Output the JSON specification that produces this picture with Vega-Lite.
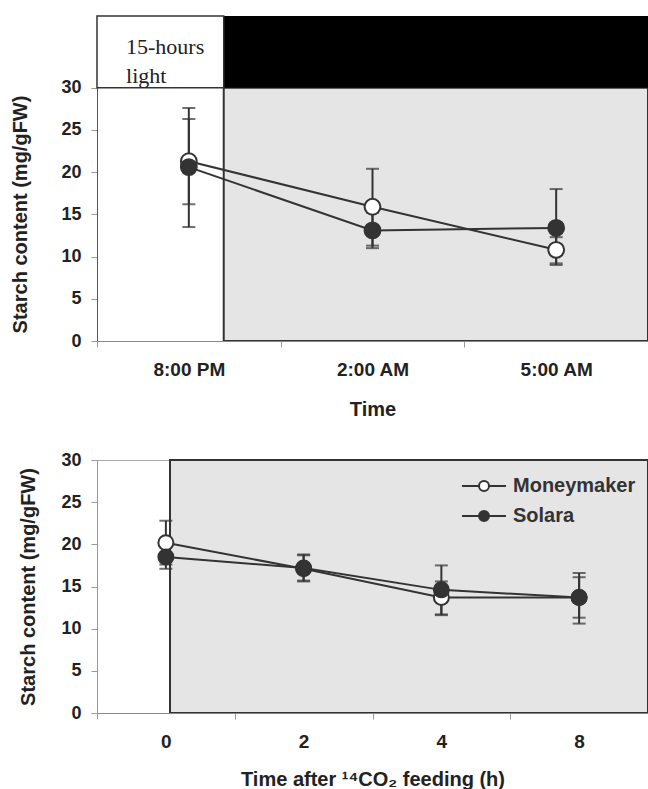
{
  "$schema": "https://vega.github.io/schema/vega-lite/v6.json",
  "padding": {"left": 10, "top": 15, "right": 0, "bottom": 0},
  "background": "white",
  "spacing": 31,
  "resolve": {"scale": {"fill": "independent", "x": "independent", "y": "independent"}, "legend": {"fill": "independent"}},
  "config": {
    "font": "Liberation Sans",
    "view": {"stroke": null},
    "axis": {
      "labelFont": "Liberation Sans", "labelFontWeight": "bold", "labelFontSize": 18, "labelColor": "#222",
      "titleFont": "Liberation Sans", "titleFontWeight": "bold", "titleFontSize": 20, "titleColor": "#222",
      "tickColor": "#999", "tickSize": 6, "domainColor": "#777", "grid": false
    }
  },
  "datasets": {
    "night": [
      {"period": "15-hours light", "start": "8:00 PM", "end": "5:00 AM"}
    ],
    "diurnal": [
      {"time": "8:00 PM", "series": "Moneymaker", "starch": 21.3, "lo": 16.2, "hi": 26.3},
      {"time": "2:00 AM", "series": "Moneymaker", "starch": 15.9, "lo": 11.3, "hi": 20.4},
      {"time": "5:00 AM", "series": "Moneymaker", "starch": 10.8, "lo": 9.2, "hi": 12.3},
      {"time": "8:00 PM", "series": "Solara", "starch": 20.6, "lo": 13.5, "hi": 27.6},
      {"time": "2:00 AM", "series": "Solara", "starch": 13.1, "lo": 11.0, "hi": 15.2},
      {"time": "5:00 AM", "series": "Solara", "starch": 13.4, "lo": 9.0, "hi": 18.0}
    ],
    "chase": [
      {"hours": "0", "series": "Moneymaker", "starch": 20.2, "lo": 17.6, "hi": 22.8},
      {"hours": "2", "series": "Moneymaker", "starch": 17.1, "lo": 15.7, "hi": 18.7},
      {"hours": "4", "series": "Moneymaker", "starch": 13.7, "lo": 11.6, "hi": 15.6},
      {"hours": "8", "series": "Moneymaker", "starch": 13.7, "lo": 11.3, "hi": 16.1},
      {"hours": "0", "series": "Solara", "starch": 18.5, "lo": 17.1, "hi": 19.9},
      {"hours": "2", "series": "Solara", "starch": 17.2, "lo": 15.6, "hi": 18.8},
      {"hours": "4", "series": "Solara", "starch": 14.6, "lo": 11.7, "hi": 17.5},
      {"hours": "8", "series": "Solara", "starch": 13.7, "lo": 10.6, "hi": 16.6}
    ]
  },
  "vconcat": [
    {
      "width": 551,
      "height": 325,
      "encoding": {
        "x": {
          "field": "time", "type": "ordinal", "title": "Time",
          "scale": {"type": "band", "domain": ["8:00 PM", "2:00 AM", "5:00 AM"], "paddingInner": 0, "paddingOuter": 0},
          "axis": {"labelAngle": 0, "labelFontSize": 19, "tickBand": "extent", "labelPadding": 13, "titlePadding": 20, "domainColor": "#888"}
        }
      },
      "layer": [
        {
          "data": {"name": "night"},
          "mark": {"type": "rect", "fill": "#e5e5e5", "stroke": "#333", "strokeWidth": 2},
          "encoding": {
            "x": {"field": "start", "type": "ordinal", "bandPosition": 0.69},
            "x2": {"field": "end", "bandPosition": 1},
            "y": {"datum": 0, "type": "quantitative",
              "scale": {"domain": [0, 38.5], "nice": false, "zero": true},
              "axis": {"values": [0, 5, 10, 15, 20, 25, 30], "title": "Starch content (mg/gFW)", "titleY": 198, "labelPadding": 10, "titlePadding": 30, "domainColor": "#555"}},
            "y2": {"datum": 30}
          }
        },
        {
          "data": {"name": "night"},
          "mark": {"type": "rect", "fill": "#000"},
          "encoding": {
            "x": {"field": "start", "type": "ordinal", "bandPosition": 0.69},
            "x2": {"field": "end", "bandPosition": 1},
            "y": {"datum": 30, "type": "quantitative"},
            "y2": {"datum": 38.5}
          }
        },
        {
          "data": {"name": "night"},
          "mark": {"type": "rect", "fill": "white", "stroke": "#333", "strokeWidth": 1.5},
          "encoding": {
            "x": {"field": "start", "type": "ordinal", "bandPosition": 0},
            "x2": {"field": "start", "bandPosition": 0.69},
            "y": {"datum": 30, "type": "quantitative"},
            "y2": {"datum": 38.5}
          }
        },
        {
          "data": {"name": "night"},
          "mark": {"type": "text", "font": "Liberation Serif", "fontSize": 22, "align": "left", "baseline": "alphabetic", "color": "#222", "lineHeight": 29},
          "encoding": {
            "x": {"field": "start", "type": "ordinal", "bandPosition": 0.158},
            "y": {"datum": 34.0, "type": "quantitative"},
            "text": {"value": ["15-hours", "light"]}
          }
        },
        {
          "data": {"name": "diurnal"},
          "mark": {"type": "line", "stroke": "#333", "strokeWidth": 2},
          "encoding": {
            "y": {"field": "starch", "type": "quantitative"},
            "detail": {"field": "series"}
          }
        },
        {
          "data": {"name": "diurnal"},
          "mark": {"type": "rule", "stroke": "#333", "strokeWidth": 2},
          "encoding": {
            "y": {"field": "lo", "type": "quantitative"},
            "y2": {"field": "hi"}
          }
        },
        {
          "data": {"name": "diurnal"},
          "mark": {"type": "tick", "orient": "horizontal", "size": 13, "thickness": 2, "color": "#333"},
          "encoding": {"y": {"field": "lo", "type": "quantitative"}}
        },
        {
          "data": {"name": "diurnal"},
          "mark": {"type": "tick", "orient": "horizontal", "size": 13, "thickness": 2, "color": "#333"},
          "encoding": {"y": {"field": "hi", "type": "quantitative"}}
        },
        {
          "data": {"name": "diurnal"},
          "mark": {"type": "point", "shape": "circle", "filled": true, "size": 250, "stroke": "#333", "strokeWidth": 2, "opacity": 1},
          "encoding": {
            "y": {"field": "starch", "type": "quantitative"},
            "fill": {"field": "series", "type": "nominal", "scale": {"domain": ["Moneymaker", "Solara"], "range": ["white", "#333"]}, "legend": null}
          }
        }
      ]
    },
    {
      "width": 551,
      "height": 253,
      "view": {"stroke": "#aaa"},
      "encoding": {
        "x": {
          "field": "hours", "type": "ordinal", "title": "Time after ¹⁴CO₂ feeding (h)",
          "scale": {"type": "band", "domain": ["0", "2", "4", "8"], "paddingInner": 0, "paddingOuter": 0},
          "axis": {"labelAngle": 0, "labelFontSize": 19, "tickBand": "extent", "labelPadding": 13, "titlePadding": 18, "domainColor": "#888"}
        }
      },
      "layer": [
        {
          "data": {"values": [{"start": "0", "end": "8"}]},
          "mark": {"type": "rect", "fill": "#e5e5e5", "stroke": "#333", "strokeWidth": 2},
          "encoding": {
            "x": {"field": "start", "type": "ordinal", "bandPosition": 0.53},
            "x2": {"field": "end", "bandPosition": 1},
            "y": {"datum": 0, "type": "quantitative",
              "scale": {"domain": [0, 30], "nice": false},
              "axis": {"values": [0, 5, 10, 15, 20, 25, 30], "title": "Starch content (mg/gFW)", "labelPadding": 10, "titlePadding": 22, "domainColor": "#999"}},
            "y2": {"datum": 30}
          }
        },
        {
          "data": {"name": "chase"},
          "mark": {"type": "line", "stroke": "#333", "strokeWidth": 2},
          "encoding": {
            "y": {"field": "starch", "type": "quantitative"},
            "detail": {"field": "series"}
          }
        },
        {
          "data": {"name": "chase"},
          "mark": {"type": "rule", "stroke": "#333", "strokeWidth": 2},
          "encoding": {
            "y": {"field": "lo", "type": "quantitative"},
            "y2": {"field": "hi"}
          }
        },
        {
          "data": {"name": "chase"},
          "mark": {"type": "tick", "orient": "horizontal", "size": 13, "thickness": 2, "color": "#333"},
          "encoding": {"y": {"field": "lo", "type": "quantitative"}}
        },
        {
          "data": {"name": "chase"},
          "mark": {"type": "tick", "orient": "horizontal", "size": 13, "thickness": 2, "color": "#333"},
          "encoding": {"y": {"field": "hi", "type": "quantitative"}}
        },
        {
          "data": {"name": "chase"},
          "mark": {"type": "point", "shape": "circle", "filled": true, "size": 225, "stroke": "#333", "strokeWidth": 2, "opacity": 1},
          "encoding": {
            "y": {"field": "starch", "type": "quantitative"},
            "fill": {"field": "series", "type": "nominal",
              "scale": {"domain": ["Moneymaker", "Solara"], "range": ["white", "#333"]},
              "legend": {
                "title": null, "orient": "none", "legendX": 370, "legendY": 9, "padding": 0,
                "symbolType": "M-1.375,0H-0.3125M0.3125,0H1.375M-0.3125,0A0.3125,0.3125,0,1,1,0.3125,0A0.3125,0.3125,0,1,1,-0.3125,0Z",
                "symbolSize": 1024, "symbolStrokeColor": "#333", "symbolStrokeWidth": 2, "symbolOpacity": 1,
                "labelFont": "Liberation Sans", "labelFontWeight": "bold", "labelFontSize": 20, "labelColor": "#333",
                "labelOffset": 12, "rowPadding": 3,
                "encode": {"symbols": {"update": {"stroke": {"value": "#333"}, "strokeWidth": {"value": 2}}}}
              }
            }
          }
        }
      ]
    }
  ]
}
